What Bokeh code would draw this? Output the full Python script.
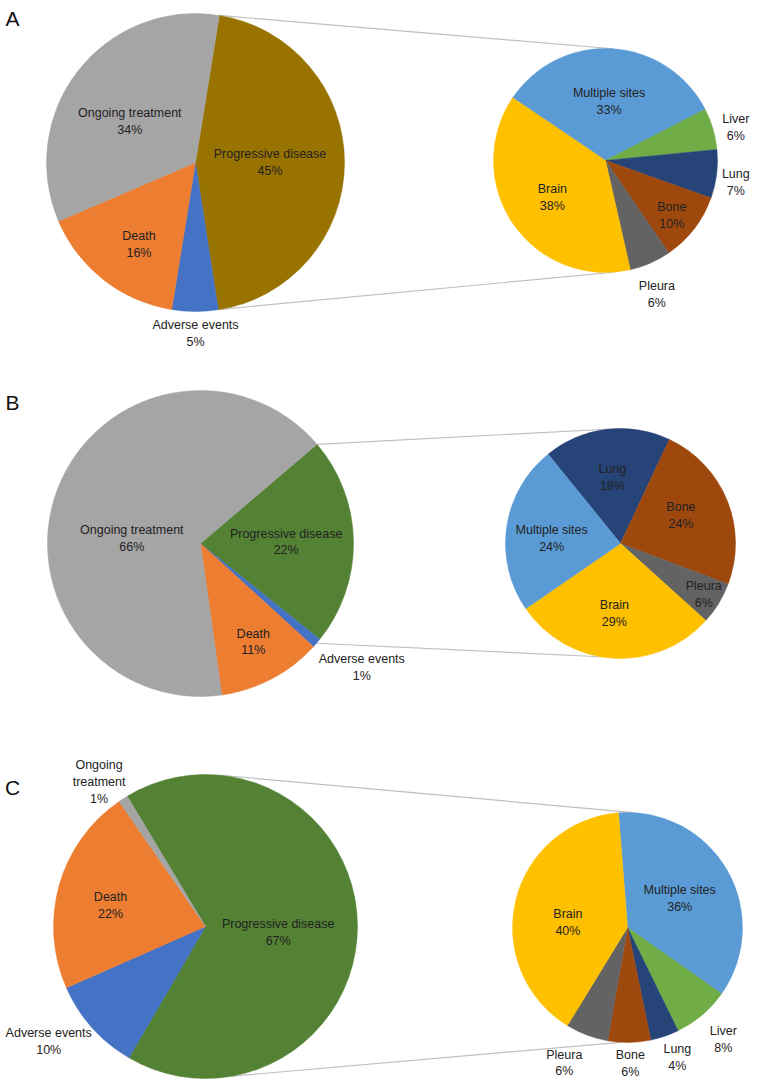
import math
from bokeh.plotting import figure
from bokeh.models import Range1d, ColumnDataSource
from bokeh.embed import file_html
from bokeh.resources import INLINE
from bokeh.core.properties import value

# ---------------- data ----------------
main_labels = ["Progressive disease", "Adverse events", "Death", "Ongoing treatment"]

a_main_values = [45, 5, 16, 34]
a_sub_labels = ["Multiple sites", "Liver", "Lung", "Bone", "Pleura", "Brain"]
a_sub_values = [33, 6, 7, 10, 6, 38]

b_main_values = [22, 1, 11, 66]
b_sub_labels = ["Lung", "Bone", "Pleura", "Brain", "Multiple sites"]
b_sub_values = [18, 24, 6, 29, 24]

c_main_values = [67, 10, 22, 1]
c_main_display = ["Progressive disease", "Adverse events", "Death", "Ongoing\ntreatment"]
c_sub_labels = ["Multiple sites", "Liver", "Lung", "Bone", "Pleura", "Brain"]
c_sub_values = [36, 8, 4, 6, 6, 40]

# ---------------- styles ----------------
MAIN_COLORS_A = {"Progressive disease": "#997300", "Adverse events": "#4472C4",
                 "Death": "#ED7D31", "Ongoing treatment": "#A5A5A5"}
MAIN_COLORS_BC = dict(MAIN_COLORS_A, **{"Progressive disease": "#548235"})
SUB_COLORS = {"Multiple sites": "#5B9BD5", "Liver": "#70AD47", "Lung": "#264478",
              "Bone": "#9E480E", "Pleura": "#636363", "Brain": "#FFC000"}

FONT = value("Liberation Sans")
TXT = "#222222"
H = 1086  # image height for y flip
W_FIG, H_FIG = 752, 1084

p = figure(width=W_FIG, height=H_FIG, x_range=Range1d(0, W_FIG), y_range=Range1d(H - H_FIG, H),
           x_axis_type=None, y_axis_type=None, toolbar_location=None,
           output_backend="svg", min_border=0)
p.grid.visible = False
p.outline_line_color = None
p.background_fill_color = "white"


def pt(cx, cy, ang, d):
    a = math.radians(ang)
    return cx + d * math.sin(a), H - (cy - d * math.cos(a))


def draw_pie(cx, cy, r, start, names, vals, colors, label_pos, display=None):
    tot = float(sum(vals))
    s = start
    xs, ys, sa, ea, cols = [], [], [], [], []
    tx, ty, tt = [], [], []
    for i, (n, v) in enumerate(zip(names, vals)):
        e = s + v / tot * 360.0
        xs.append(cx); ys.append(H - cy)
        sa.append(math.radians(90 - s)); ea.append(math.radians(90 - e))
        cols.append(colors[n])
        ang, frac = label_pos[i]
        lx, ly = pt(cx, cy, ang, frac * r)
        tx.append(lx); ty.append(ly)
        lab = display[i] if display else n
        tt.append(f"{lab}\n{v}%")
        s = e
    src = ColumnDataSource(dict(x=xs, y=ys, sa=sa, ea=ea, c=cols))
    p.wedge(x="x", y="y", radius=r, start_angle="sa", end_angle="ea",
            direction="clock", fill_color="c", line_color="c", line_width=0.5,
            source=src)
    p.text(x=tx, y=ty, text=tt, text_align="center", text_baseline="middle",
           text_font=FONT, text_font_size="12.5px", text_color=TXT, text_line_height=1.2)


def connectors(m, ma, s, sa):
    (mcx, mcy, mr), (scx, scy, sr) = m, s
    for a1, a2 in zip(ma, sa):
        x1, y1 = pt(mcx, mcy, a1, mr)
        x2, y2 = pt(scx, scy, a2, sr)
        p.line([x1, x2], [y1, y2], line_color="#BFBFBF", line_width=1.2)


panels = [
    dict(letter="A", lx=12, ly=18,
         main=(195, 162, 149), mstart=9.2, mvals=a_main_values, mcol=MAIN_COLORS_A, mdisp=None,
         mpos=[(90, 0.50), (180, 1.15), (214.5, 0.67), (302, 0.52)],
         sub=(605, 160, 112), sstart=304, snames=a_sub_labels, svals=a_sub_values,
         spos=[(3.4, 0.53), (75.8, 1.2), (99.6, 1.18), (129.8, 0.77), (159, 1.28), (235, 0.58)],
         conn_m=(9.2, 170.2), conn_s=(4, 176)),
    dict(letter="B", lx=12, ly=402,
         main=(200, 543, 153), mstart=49.6, mvals=b_main_values, mcol=MAIN_COLORS_BC, mdisp=None,
         mpos=[(89, 0.56), (127.6, 1.33), (151.8, 0.73), (274, 0.45)],
         sub=(620, 543, 115), sstart=321, snames=b_sub_labels, svals=b_sub_values,
         spos=[(353, 0.58), (65, 0.58), (121.6, 0.85), (185, 0.61), (274, 0.60)],
         conn_m=(49.6, 130.7), conn_s=(0, 190)),
    dict(letter="C", lx=12, ly=787,
         main=(205, 926, 152), mstart=329, mvals=c_main_values, mcol=MAIN_COLORS_BC, mdisp=c_main_display,
         mpos=[(95, 0.48), (233.7, 1.28), (282.5, 0.64), (323.6, 1.18)],
         sub=(627, 927, 115), sstart=355.5, snames=c_sub_labels, svals=c_sub_values,
         spos=[(60.8, 0.52), (139.4, 1.28), (159, 1.21), (178.8, 1.18), (205, 1.3), (275, 0.52)],
         conn_m=(5.6, 170), conn_s=(3, 183.5)),
]

for P in panels:
    connectors(P["main"], P["conn_m"], P["sub"], P["conn_s"])
    cx, cy, r = P["main"]
    draw_pie(cx, cy, r, P["mstart"], main_labels, P["mvals"], P["mcol"], P["mpos"], P["mdisp"])
    cx, cy, r = P["sub"]
    draw_pie(cx, cy, r, P["sstart"], P["snames"], P["svals"], SUB_COLORS, P["spos"])
    p.text(x=[P["lx"]], y=[H - P["ly"]], text=[P["letter"]], text_align="center",
           text_baseline="middle", text_font=FONT, text_font_size="21px", text_color="#111111")

open("out.html", "w").write(file_html(p, INLINE))
